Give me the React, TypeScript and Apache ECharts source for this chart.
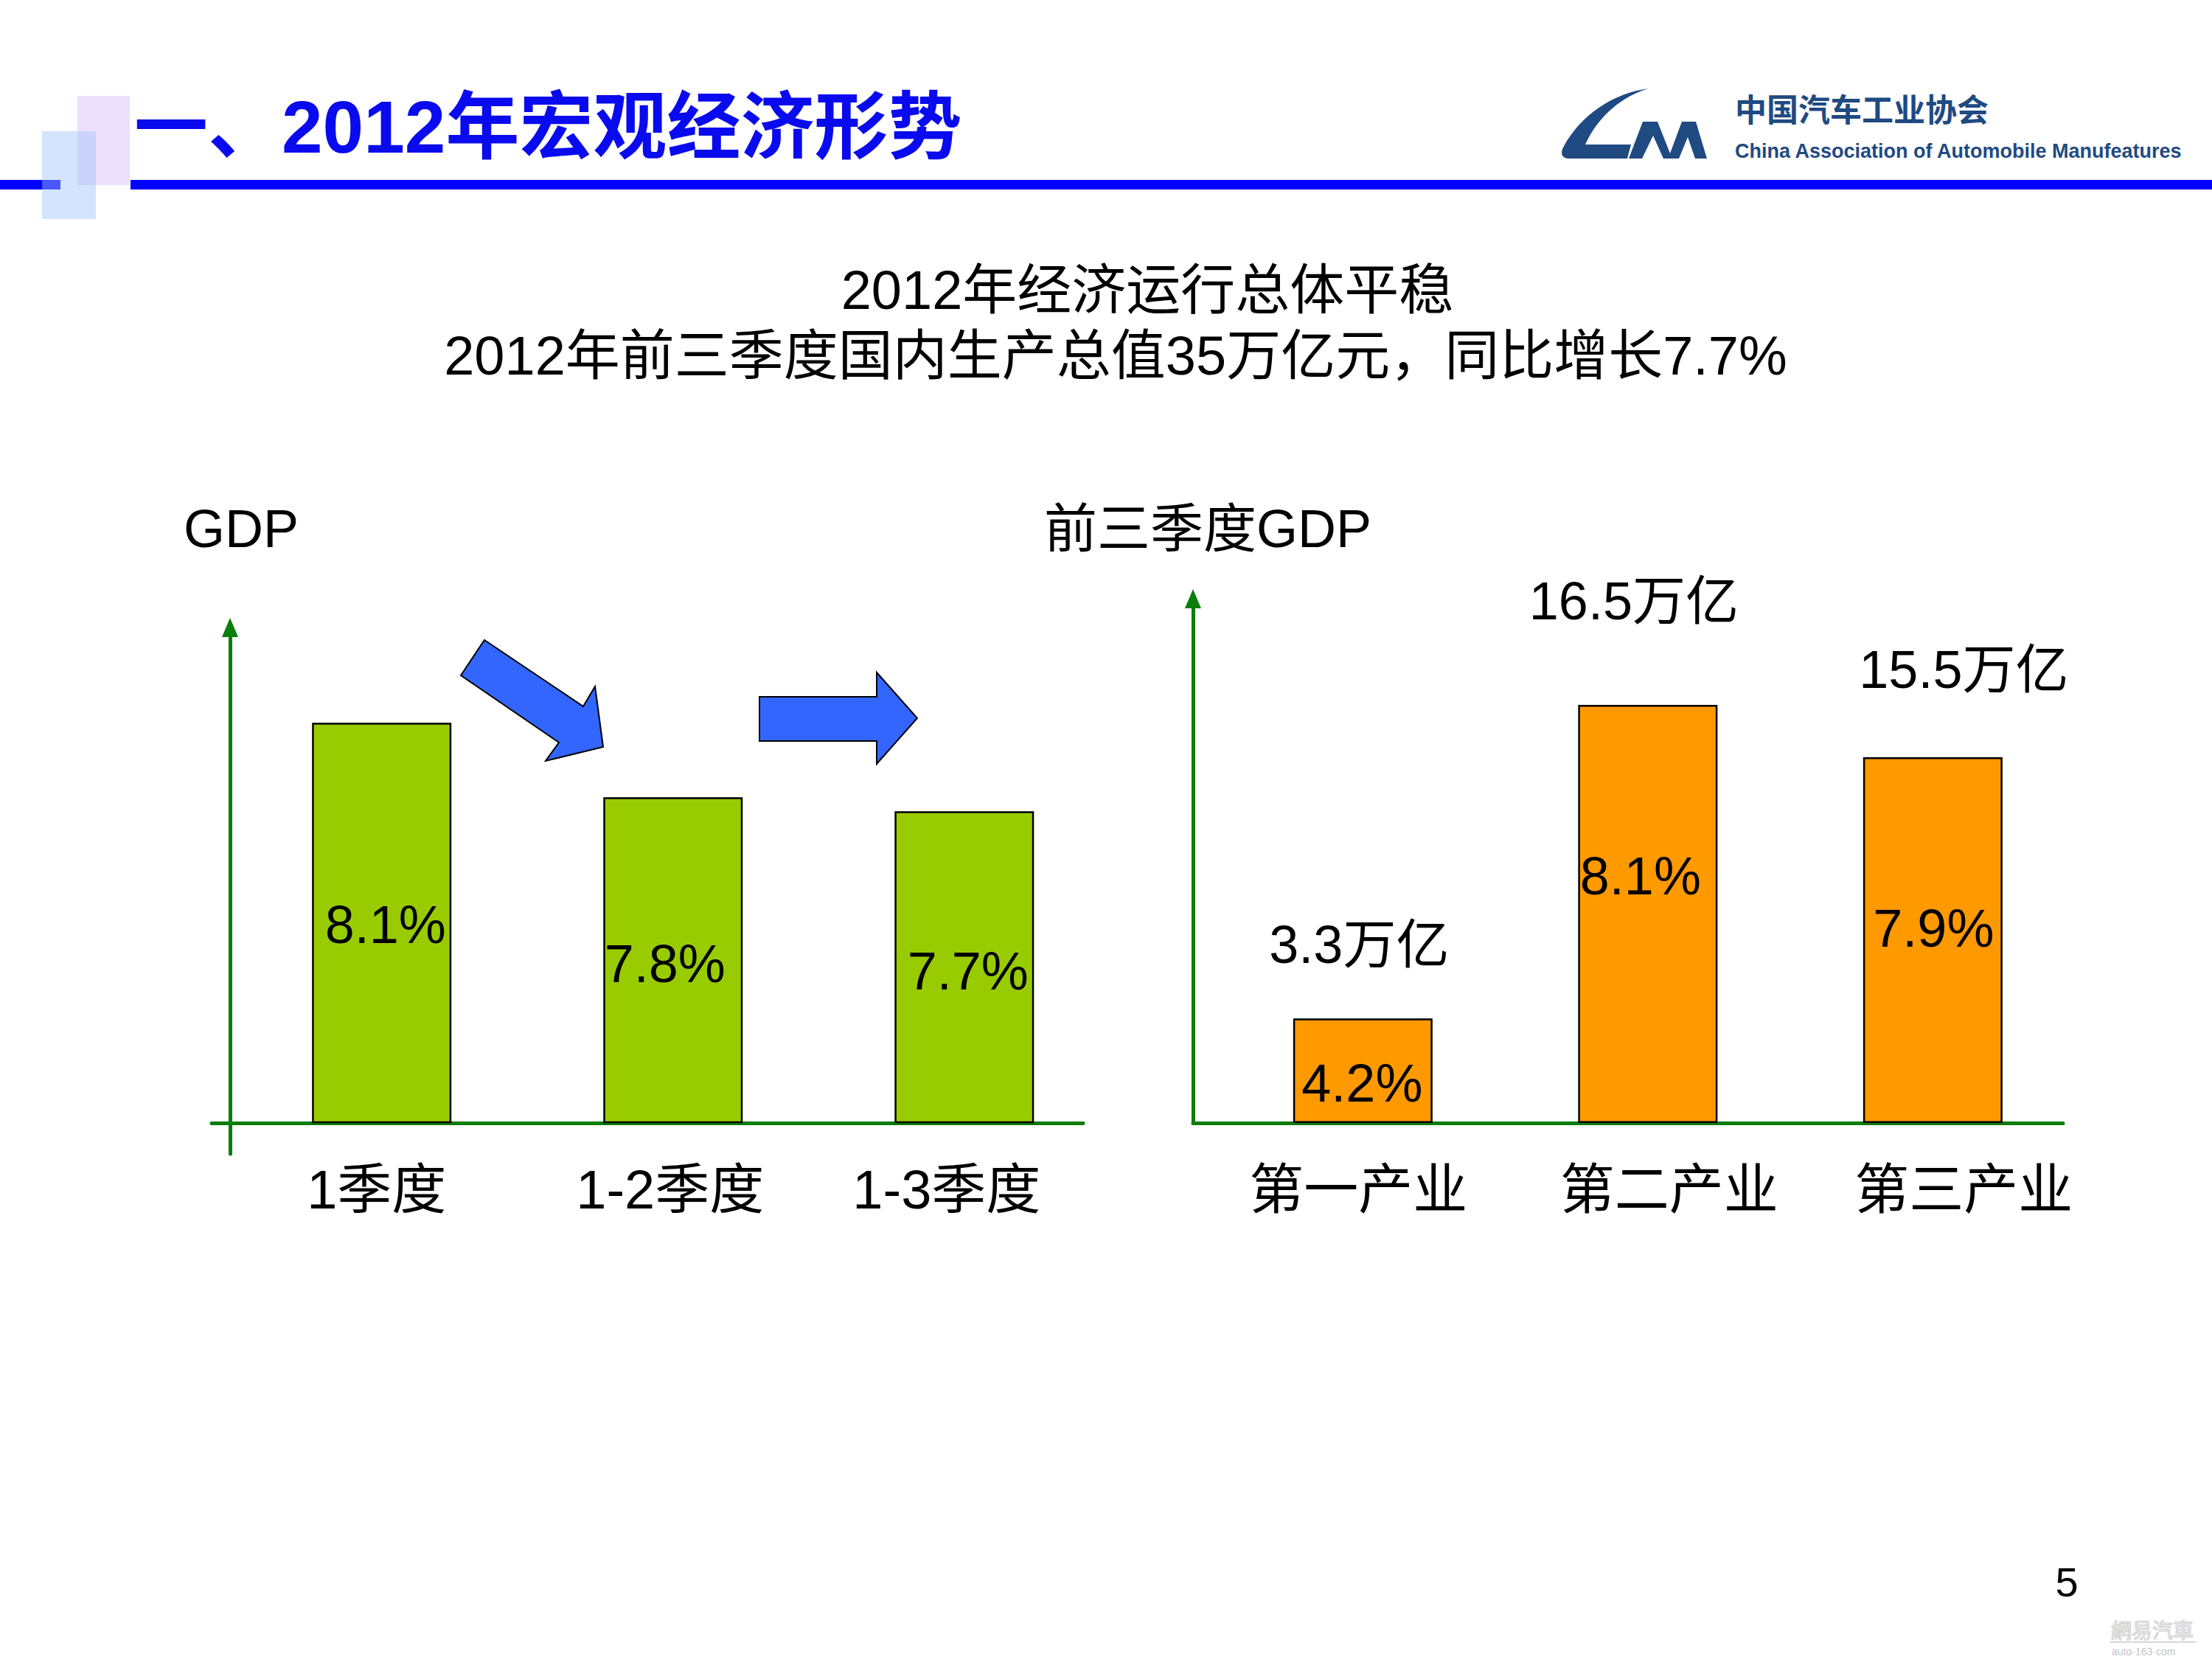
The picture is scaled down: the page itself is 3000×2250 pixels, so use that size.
import React, { useEffect, useRef } from "react";
import * as echarts from "echarts";

// ---------- data ----------
const titleText = "一、2012年宏观经济形势";
const subtitleLine1 = "2012年经济运行总体平稳";
const subtitleLine2 = "2012年前三季度国内生产总值35万亿元，同比增长7.7%";

const leftAxisName = "GDP";
const leftCategories = ["1季度", "1-2季度", "1-3季度"];
const leftGrowth = ["8.1%", "7.8%", "7.7%"];
// bar heights as drawn in the slide (relative, 1季度 = 100)
const leftBarHeight = [100, 81.4, 77.9];

const rightAxisName = "前三季度GDP";
const rightCategories = ["第一产业", "第二产业", "第三产业"];
const rightGrowth = ["4.2%", "8.1%", "7.9%"];
const rightValueLabels = ["3.3万亿", "16.5万亿", "15.5万亿"];
// bar heights as drawn in the slide (relative, 第二产业 = 100)
const rightBarHeight = [25.0, 100, 87.5];

const logoCn = "中国汽车工业协会";
const logoEn = "China Association of Automobile Manufeatures";
const pageNumber = "5";

// ---------- styling / layout constants ----------
const FONT = "'Liberation Sans', 'Noto Sans CJK SC', sans-serif";
const GREEN = "#0b7d0b";
const LOGO_BLUE = "#1f4a82";
const leftLabelNudge = [[5, 2], [-11, 5], [5, 5]];
const rightLabelNudge = [[-1, 17], [-10, -52], [1, -16]];
const rightTopNudge = [[-5, -100], [-19, -141], [42, -119]];
const leftCatShift = [-7, -4, -24];
const rightCatShift = [-6, 29, 42];

let registered = false;
function registerShapes() {
  if (registered) return;
  registered = true;
  echarts.graphic.registerShape(
    "caamC",
    echarts.graphic.extendPath(
      "M122 0 C 88 10, 55 35, 36 76 L 98 76 L 93 95 L 14 95 C 4 95, 2 88, 6 80 C 30 35, 75 6, 122 0 Z",
      {}
    )
  );
}

function txt(text: string, x: number, y: number, size: number, opts: any = {}) {
  return {
    type: "text",
    x,
    y,
    style: {
      text,
      fontSize: size,
      fontFamily: opts.family || FONT,
      fontWeight: opts.weight || "normal",
      fill: opts.fill || "#000",
      textAlign: opts.align || "left",
      align: opts.align || "left",
      textVerticalAlign: "middle",
      verticalAlign: "middle",
      stroke: opts.stroke,
      lineWidth: opts.lineWidth,
    },
  };
}

function shiftRich(shifts: number[]) {
  const rich: any = {};
  shifts.forEach((s, i) => {
    rich["c" + i] = {
      fontSize: 74,
      color: "#000",
      fontFamily: FONT,
      padding: s >= 0 ? [0, 0, 0, 2 * s] : [0, -2 * s, 0, 0],
    };
  });
  return rich;
}

export default function App() {
  const ref = useRef<HTMLDivElement>(null);

  useEffect(() => {
    registerShapes();
    const chart = echarts.init(ref.current!, null, { renderer: "svg" });

    const axisLabelStyle = {
      fontSize: 74,
      color: "#000",
      fontFamily: FONT,
    };

    const catFormatter = (cats: string[]) => (v: number) => {
      const i = Math.round(v);
      return cats[i] !== undefined ? `{c${i}|${cats[i]}}` : "";
    };

    const option: any = {
      animation: false,
      backgroundColor: "#fff",
      grid: [
        { left: 287, top: 851, width: 1182, height: 714 },
        { left: 1618, top: 812, width: 1180, height: 711 },
      ],
      xAxis: [
        {
          type: "value",
          gridIndex: 0,
          min: -0.584,
          max: 2.408,
          axisLine: { show: true, onZero: true, lineStyle: { color: GREEN, width: 5 } },
          axisTick: { show: false },
          splitLine: { show: false },
          axisLabel: {
            ...axisLabelStyle,
            margin: 11,
            customValues: [0, 1, 2],
            formatter: catFormatter(leftCategories),
            rich: shiftRich(leftCatShift),
          },
        },
        {
          type: "value",
          gridIndex: 1,
          min: -0.596,
          max: 2.457,
          axisLine: { show: true, onZero: true, lineStyle: { color: GREEN, width: 5 } },
          axisTick: { show: false },
          splitLine: { show: false },
          axisLabel: {
            ...axisLabelStyle,
            margin: 53,
            customValues: [0, 1, 2],
            formatter: catFormatter(rightCategories),
            rich: shiftRich(rightCatShift),
          },
        },
      ],
      yAxis: [
        {
          type: "value",
          gridIndex: 0,
          min: -7.7,
          max: 123.8,
          offset: -25,
          axisLine: {
            show: true,
            onZero: false,
            symbol: ["none", "triangle"],
            symbolSize: [22, 26],
            lineStyle: { color: GREEN, width: 5 },
          },
          axisTick: { show: false },
          axisLabel: { show: false },
          splitLine: { show: false },
        },
        {
          type: "value",
          gridIndex: 1,
          min: 0,
          max: 125.4,
          axisLine: {
            show: true,
            onZero: false,
            symbol: ["none", "triangle"],
            symbolSize: [22, 26],
            lineStyle: { color: GREEN, width: 5 },
          },
          axisTick: { show: false },
          axisLabel: { show: false },
          splitLine: { show: false },
        },
      ],
      series: [
        {
          type: "bar",
          xAxisIndex: 0,
          yAxisIndex: 0,
          barWidth: 189,
          data: leftBarHeight.map((h, i) => ({
            value: [i, h],
            label: { offset: leftLabelNudge[i] },
          })),
          itemStyle: { color: "#99cc00", borderColor: "#000", borderWidth: 2.5 },
          label: {
            show: true,
            position: "inside",
            formatter: (p: any) => leftGrowth[p.dataIndex],
            fontSize: 72,
            color: "#000",
            fontFamily: FONT,
          },
        },
        {
          type: "bar",
          xAxisIndex: 1,
          yAxisIndex: 1,
          barWidth: 189,
          data: rightBarHeight.map((h, i) => ({
            value: [i, h],
            label: { offset: rightLabelNudge[i] },
          })),
          itemStyle: { color: "#ff9900", borderColor: "#000", borderWidth: 2.5 },
          label: {
            show: true,
            position: "inside",
            formatter: (p: any) => rightGrowth[p.dataIndex],
            fontSize: 72,
            color: "#000",
            fontFamily: FONT,
          },
        },
        {
          type: "scatter",
          xAxisIndex: 1,
          yAxisIndex: 1,
          symbolSize: 1,
          itemStyle: { color: "rgba(0,0,0,0)", opacity: 1 },
          data: rightBarHeight.map((h, i) => ({
            value: [i, h],
            label: { offset: rightTopNudge[i] },
          })),
          label: {
            show: true,
            position: "inside",
            formatter: (p: any) => rightValueLabels[p.dataIndex],
            fontSize: 72,
            color: "#000",
            opacity: 1,
            fontFamily: FONT,
          },
        },
      ],
      graphic: [
        // header rule and decorative squares
        { type: "rect", shape: { x: 0, y: 244, width: 82, height: 13 }, style: { fill: "#0000ff" } },
        { type: "rect", shape: { x: 177, y: 244, width: 2823, height: 13 }, style: { fill: "#0000ff" } },
        { type: "rect", shape: { x: 105, y: 130, width: 71, height: 121 }, style: { fill: "rgba(212,186,246,0.45)" } },
        { type: "rect", shape: { x: 57, y: 178, width: 73, height: 119 }, style: { fill: "rgba(160,195,250,0.45)" } },
        txt(titleText, 182, 172, 100, { weight: "bold", fill: "#0a0aee" }),
        // logo
        { type: "caamC", x: 2114, y: 120, style: { fill: LOGO_BLUE } },
        {
          type: "polygon",
          x: 2114,
          y: 120,
          shape: {
            points: [
              [95, 95], [114, 45], [134, 45], [151, 88], [167, 45], [186, 45],
              [201, 95], [185, 95], [175, 66], [163, 95], [142, 95], [128, 64], [113, 95],
            ],
          },
          style: { fill: LOGO_BLUE },
        },
        txt(logoCn, 2353, 150, 43, { weight: "bold", fill: LOGO_BLUE }),
        txt(logoEn, 2353, 205, 27, { weight: "bold", fill: LOGO_BLUE }),
        // subtitles
        txt(subtitleLine1, 1556, 393, 74, { align: "center" }),
        txt(subtitleLine2, 1513, 482, 74, { align: "center" }),
        // axis names
        txt(leftAxisName, 249, 717, 72),
        txt(rightAxisName, 1416, 717, 72),
        // trend arrows
        {
          type: "polygon",
          shape: {
            points: [[657, 868], [791, 958], [807, 931], [818, 1013], [740, 1032], [758, 1007], [625, 916]],
          },
          style: { fill: "#3366ff", stroke: "#000", lineWidth: 2 },
        },
        {
          type: "polygon",
          shape: {
            points: [[1030, 945], [1189, 945], [1189, 912], [1244, 974], [1189, 1036], [1189, 1005], [1030, 1005]],
          },
          style: { fill: "#3366ff", stroke: "#000", lineWidth: 2 },
        },
        // page number and watermark
        txt(pageNumber, 2803, 2145, 56, { align: "center" }),
        txt("網易汽車", 2863, 2212, 28, { fill: "#e2e2e2", stroke: "#bdbdbd", lineWidth: 1 }),
        { type: "line", shape: { x1: 2862, y1: 2227, x2: 2978, y2: 2227 }, style: { stroke: "#c8c8c8", lineWidth: 1.5 } },
        txt("auto·163·com", 2864, 2240, 14, { fill: "#c4c4c4" }),
      ],
    };

    chart.setOption(option);
    return () => chart.dispose();
  }, []);

  return (
    <div
      ref={ref}
      style={{ position: "absolute", left: 0, top: 0, width: 3000, height: 2250, background: "#fff" }}
    />
  );
}
